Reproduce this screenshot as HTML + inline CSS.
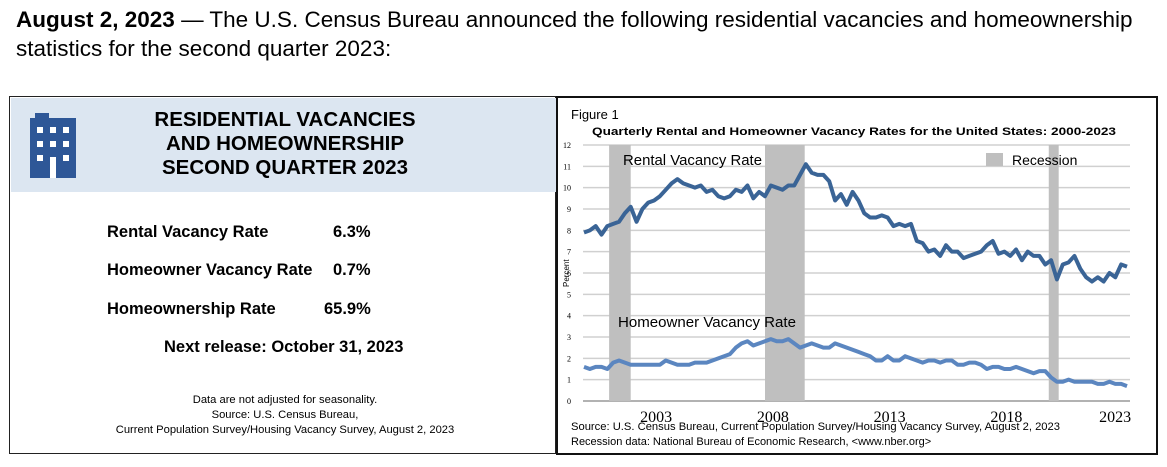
<!DOCTYPE html>
<html><head><meta charset="utf-8"><style>
body{margin:0;width:1167px;height:467px;background:#fff;font-family:"Liberation Sans",sans-serif;position:relative;overflow:hidden}
.abs{position:absolute}
</style></head><body>
<div class="abs" style="left:16px;top:5px;font-size:22.5px;line-height:29px;color:#000;width:1150px;white-space:nowrap">
<b>August 2, 2023</b> — The U.S. Census Bureau announced the following residential vacancies and homeownership<br>statistics for the second quarter 2023:</div>

<div class="abs" style="left:9px;top:96px;width:547px;height:358px;border:1px solid #222;box-sizing:border-box">
 <div class="abs" style="left:1px;top:1px;width:545px;height:94px;background:#dce6f1"></div>
 <svg class="abs" style="left:20px;top:16px" width="50" height="66" viewBox="0 0 50 66">
  <rect x="5" y="0" width="14" height="6" fill="#2e5797"/><rect x="0" y="5" width="46" height="60" fill="#2e5797"/>
  <g fill="#fff"><rect x="7" y="14" width="6" height="6"/><rect x="20" y="14" width="6" height="6"/><rect x="33" y="14" width="6" height="6"/>
  <rect x="7" y="28" width="6" height="6"/><rect x="20" y="28" width="6" height="6"/><rect x="33" y="28" width="6" height="6"/>
  <rect x="7" y="42" width="6" height="6"/><rect x="33" y="42" width="6" height="6"/><rect x="20" y="44" width="6" height="21"/></g></svg>
 <div class="abs" style="left:75px;top:11px;width:400px;text-align:center;font-weight:bold;font-size:20.5px;line-height:24px">RESIDENTIAL VACANCIES<br>AND HOMEOWNERSHIP<br>SECOND QUARTER 2023</div>
 <div class="abs" style="left:97px;top:126px;font-weight:bold;font-size:16.5px">Rental Vacancy Rate</div>
 <div class="abs" style="left:323px;top:126px;font-weight:bold;font-size:16.5px">6.3%</div>
 <div class="abs" style="left:97px;top:164px;font-weight:bold;font-size:16.5px">Homeowner Vacancy Rate</div>
 <div class="abs" style="left:323px;top:164px;font-weight:bold;font-size:16.5px">0.7%</div>
 <div class="abs" style="left:97px;top:203px;font-weight:bold;font-size:16.5px">Homeownership Rate</div>
 <div class="abs" style="left:314px;top:203px;font-weight:bold;font-size:16.5px">65.9%</div>
 <div class="abs" style="left:154px;top:241px;font-weight:bold;font-size:16.5px">Next release: October 31, 2023</div>
 <div class="abs" style="left:40px;top:296px;width:470px;text-align:center;font-size:11.2px;line-height:15px">Data are not adjusted for seasonality.<br>Source: U.S. Census Bureau,<br>Current Population Survey/Housing Vacancy Survey, August 2, 2023</div>
</div>

<div class="abs" style="left:556px;top:96px;width:602px;height:359px;border:2px solid #111;box-sizing:border-box"></div>
<svg class="abs" id="chart" style="left:0;top:0" width="1167" height="467"></svg>
<script>
const years=["2003","2008","2013","2018","2023"];
const yTicks=[0,1,2,3,4,5,6,7,8,9,10,11,12];
const rental=[7.9,8.0,8.2,7.8,8.2,8.3,8.4,8.8,9.1,8.4,9.0,9.3,9.4,9.6,9.9,10.2,10.4,10.2,10.1,10.0,10.1,9.8,9.9,9.6,9.5,9.6,9.9,9.8,10.1,9.5,9.8,9.6,10.1,10.0,9.9,10.1,10.1,10.6,11.1,10.7,10.6,10.6,10.3,9.4,9.7,9.2,9.8,9.4,8.8,8.6,8.6,8.7,8.6,8.2,8.3,8.2,8.3,7.5,7.4,7.0,7.1,6.8,7.3,7.0,7.0,6.7,6.8,6.9,7.0,7.3,7.5,6.9,7.0,6.8,7.1,6.6,7.0,6.8,6.8,6.4,6.6,5.7,6.4,6.5,6.8,6.2,5.8,5.6,5.8,5.6,6.0,5.8,6.4,6.3];
const homeowner=[1.6,1.5,1.6,1.6,1.5,1.8,1.9,1.8,1.7,1.7,1.7,1.7,1.7,1.7,1.9,1.8,1.7,1.7,1.7,1.8,1.8,1.8,1.9,2.0,2.1,2.2,2.5,2.7,2.8,2.6,2.7,2.8,2.9,2.8,2.8,2.9,2.7,2.5,2.6,2.7,2.6,2.5,2.5,2.7,2.6,2.5,2.4,2.3,2.2,2.1,1.9,1.9,2.1,1.9,1.9,2.1,2.0,1.9,1.8,1.9,1.9,1.8,1.9,1.9,1.7,1.7,1.8,1.8,1.7,1.5,1.6,1.6,1.5,1.5,1.6,1.5,1.4,1.3,1.4,1.4,1.1,0.9,0.9,1.0,0.9,0.9,0.9,0.9,0.8,0.8,0.9,0.8,0.8,0.7];
const recessions=[[4.3,8.0],[31.0,37.8],[79.6,81.3]]; // quarter-index spans (2000Q1 = 0)
const NS="http://www.w3.org/2000/svg",svg=document.getElementById('chart');
const L=583,R=1130,Y0=401,Y12=145,x0=584,step=(1127-584)/93;
const xs=i=>x0+i*step, ys=v=>Y0-(v/12)*(Y0-Y12);
function mk(t,a,p){const e=document.createElementNS(NS,t);for(const k in a)e.setAttribute(k,a[k]);(p||svg).appendChild(e);return e;}
yTicks.forEach(v=>{
 const g=mk('line',{x1:L,x2:R,y1:ys(v),y2:ys(v),stroke:v===0?'#999':'#d0d0d0','stroke-width':1.5});
 
 
 const t=mk('text',{x:L-12,y:ys(v)+3,'font-size':8,'text-anchor':'end','font-family':'Liberation Serif, serif'});t.textContent=v;
 
 
});
recessions.forEach(r=>{
 const b=mk('rect',{x:xs(r[0]),y:Y12,width:xs(r[1])-xs(r[0]),height:Y0-Y12,fill:'#bfbfbf'});
 
 
});
function line(d,name){const p=mk('polyline',{points:d.map((v,i)=>xs(i)+','+ys(v)).join(' '),fill:'none',stroke:name==='rental-line'?'#3a6496':'#5b86c0','stroke-width':4,'stroke-linejoin':'round'});
 
 }
line(rental,'rental-line');line(homeowner,'homeowner-line');
years.forEach(y=>{const i=(+y-2000)*4;const t=mk('text',{x:xs(i)+(y==='2023'?-6:2),y:422,'font-size':16,'text-anchor':'middle','font-family':'Liberation Serif, serif'});t.textContent=y;
 
 });
function txt(s,a,name){const t=mk('text',a);t.textContent=s;
 
 return t;}
txt('Figure 1',{x:571,y:119,'font-size':13},'figure-label');
txt('Quarterly Rental and Homeowner Vacancy Rates for the United States: 2000-2023',{x:592,y:135,'font-size':11.2,'font-weight':'bold',textLength:524,lengthAdjust:'spacingAndGlyphs'},'chart-title');
txt('Rental Vacancy Rate',{x:623,y:165,'font-size':14.5,textLength:139,lengthAdjust:'spacingAndGlyphs'},'rental-label');
txt('Homeowner Vacancy Rate',{x:618,y:327,'font-size':14.5,textLength:178,lengthAdjust:'spacingAndGlyphs'},'homeowner-label');
const lg=mk('rect',{x:986,y:153,width:17,height:13,fill:'#bfbfbf'});


txt('Recession',{x:1012,y:165,'font-size':14},'legend-label');
txt('Percent',{x:0,y:0,'font-size':8,transform:'translate(569,287) rotate(-90)'},'y-axis-title');
txt('Source: U.S. Census Bureau, Current Population Survey/Housing Vacancy Survey, August 2, 2023',{x:571,y:430,'font-size':11,textLength:489,lengthAdjust:'spacingAndGlyphs'},'chart-source');
txt('Recession data: National Bureau of Economic Research, <www.nber.org>',{x:571,y:445,'font-size':11},'recession-source');
</script>
</body></html>
